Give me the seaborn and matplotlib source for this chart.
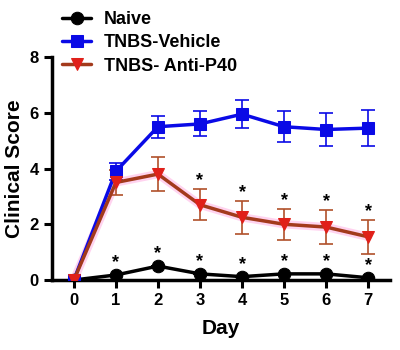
import numpy as np
import pandas as pd
import seaborn as sns
import matplotlib
matplotlib.use("Agg")
import matplotlib.pyplot as plt

days = [0, 1, 2, 3, 4, 5, 6, 7]
naive = [0.0, 0.18, 0.5, 0.22, 0.12, 0.22, 0.22, 0.08]
naive_err = [0.0, 0.0, 0.0, 0.0, 0.0, 0.0, 0.0, 0.0]
vehicle = [0.0, 3.9, 5.5, 5.6, 5.95, 5.5, 5.4, 5.45]
vehicle_err = [0.0, 0.3, 0.4, 0.45, 0.5, 0.55, 0.6, 0.65]
anti_p40 = [0.0, 3.5, 3.8, 2.7, 2.25, 2.0, 1.9, 1.55]
anti_p40_err = [0.0, 0.45, 0.6, 0.55, 0.6, 0.55, 0.6, 0.6]
star_naive_days = [1, 2, 3, 4, 5, 6, 7]
star_p40_days = [3, 4, 5, 6, 7]

groups = ["Naive", "TNBS-Vehicle", "TNBS- Anti-P40"]
df = pd.DataFrame({
    "Day": days * 3,
    "Score": naive + vehicle + anti_p40,
    "Group": np.repeat(groups, len(days)),
})

sns.set_style("ticks", {"axes.edgecolor": "black", "text.color": "black",
                        "axes.labelcolor": "black", "xtick.color": "black",
                        "ytick.color": "black"})
plt.rcParams["font.family"] = ["Liberation Sans", "DejaVu Sans"]
plt.rcParams["font.weight"] = "bold"

fig = plt.figure(figsize=(4, 3.5), dpi=100)
ax = fig.add_axes([0.13, 0.2, 0.845, 0.637])

line_colors = {"Naive": "black", "TNBS-Vehicle": "#0a0ae6", "TNBS- Anti-P40": "#a33a1c"}
marker_colors = {"Naive": "black", "TNBS-Vehicle": "#0a0ae6", "TNBS- Anti-P40": "#e0201a"}
err_colors = {"Naive": "black", "TNBS-Vehicle": "#0a0ae6", "TNBS- Anti-P40": "#b0502a"}
markers = {"Naive": "o", "TNBS-Vehicle": "s", "TNBS- Anti-P40": "v"}
errs = {"Naive": naive_err, "TNBS-Vehicle": vehicle_err, "TNBS- Anti-P40": anti_p40_err}

# soft pink halo under the anti-P40 line
sub_p40 = df[df["Group"] == "TNBS- Anti-P40"]
sns.lineplot(data=sub_p40, x="Day", y="Score", ax=ax, color="#ffc8ec",
             linewidth=6, alpha=0.8, zorder=1, legend=False)

for g in groups:
    sub = df[df["Group"] == g]
    ax.errorbar(sub["Day"], sub["Score"], yerr=errs[g], fmt="none",
                ecolor=err_colors[g], elinewidth=1.2, capsize=5, capthick=1.2, zorder=2)
    sns.lineplot(data=sub, x="Day", y="Score", ax=ax, color=line_colors[g],
                 marker=markers[g], markersize=9, markerfacecolor=marker_colors[g],
                 markeredgecolor=marker_colors[g], linewidth=2.5, label=g, zorder=3)

for d in star_naive_days:
    ax.text(d, naive[d] + 0.45, "*", ha="center", va="center", fontsize=13, fontweight="bold")
for d in star_p40_days:
    ax.text(d, anti_p40[d] + anti_p40_err[d] + 0.3, "*", ha="center", va="center",
            fontsize=13, fontweight="bold")

ax.set_xlim(-0.52, 7.52)
ax.set_ylim(0, 8)
ax.set_xticks(days)
ax.set_yticks([0, 2, 4, 6, 8])
ax.tick_params(width=2.2, length=6, labelsize=12, colors="black")
for lab in ax.get_xticklabels() + ax.get_yticklabels():
    lab.set_fontweight("bold")
for s in ["left", "bottom"]:
    ax.spines[s].set_linewidth(2.5)
sns.despine(ax=ax)
ax.set_xlabel("Day", fontsize=15, fontweight="bold", labelpad=8)
ax.set_ylabel("Clinical Score", fontsize=15, fontweight="bold", labelpad=4)

ax.legend(loc="upper left", bbox_to_anchor=(0.115, 1.015), bbox_transform=fig.transFigure,
          frameon=False, handlelength=1.6, handletextpad=0.7, labelspacing=0.35,
          prop={"weight": "bold", "size": 13})

fig.savefig("out.png", dpi=100)
